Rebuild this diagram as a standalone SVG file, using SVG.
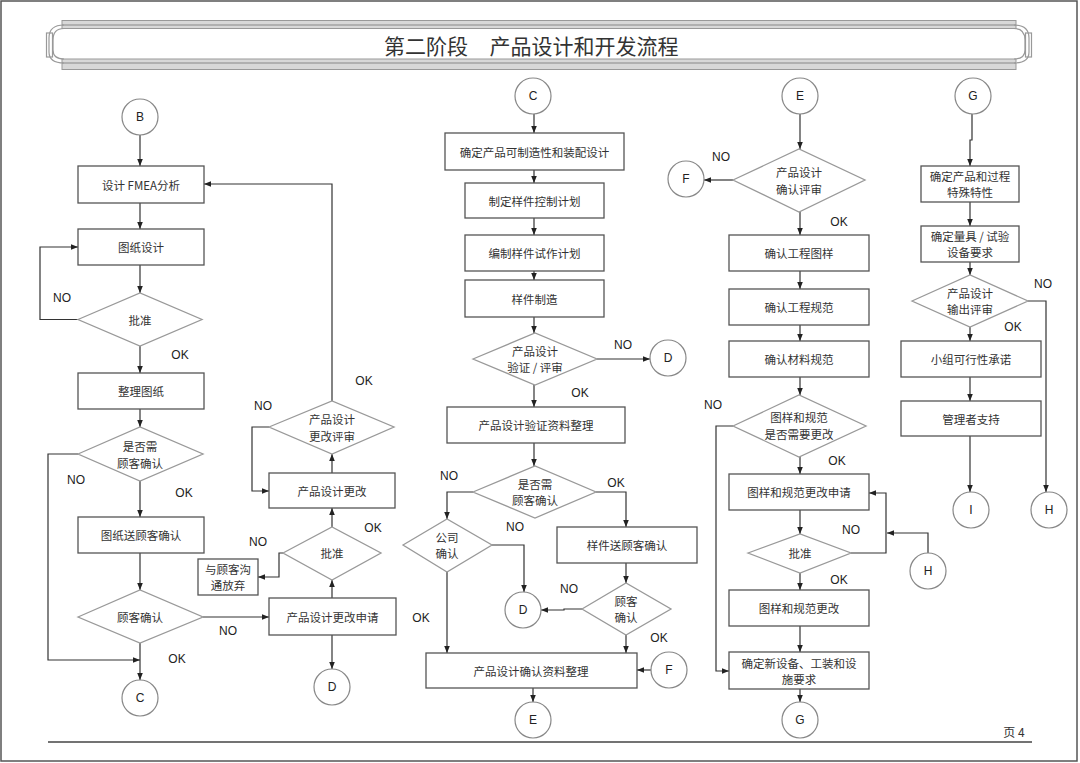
<svg xmlns="http://www.w3.org/2000/svg" width="1080" height="763" viewBox="0 0 1080 763">
<defs>
<marker id="arr" viewBox="0 0 10 10" refX="10" refY="5" markerWidth="7" markerHeight="7" markerUnits="userSpaceOnUse" orient="auto">
<path d="M0,1 L10,5 L0,9 z" fill="#222"/>
</marker>
</defs>
<style>
.box{fill:#fff;stroke:#555;stroke-width:1.3}
.dia{fill:#fff;stroke:#999;stroke-width:1.3}
.cir{fill:#fff;stroke:#888;stroke-width:1.2}
.con{fill:none;stroke:#333;stroke-width:1.2;marker-end:url(#arr)}
.t{font-family:"Noto Sans CJK SC","Noto Sans",sans-serif;font-size:11.5px;fill:#333;text-anchor:middle;dominant-baseline:central}
.l{font-family:"Liberation Sans",Arial,sans-serif;font-size:12px;fill:#222;text-anchor:middle;dominant-baseline:central}
.c{font-family:"Liberation Sans",Arial,sans-serif;font-size:12px;fill:#222;text-anchor:middle;dominant-baseline:central}
.band{fill:#d8d8d8;stroke:#999;stroke-width:1}
.bl{stroke:#888;stroke-width:1}
.cap{fill:none;stroke:#999;stroke-width:1.2}
</style>
<rect x="1" y="1" width="1076" height="760" fill="#fff" stroke="#555" stroke-width="1.5"/>
<g id="banner">
<rect class="band" x="62" y="20.5" width="954" height="8"/>
<line class="bl" x1="62" y1="25" x2="1016" y2="25"/>
<rect class="band" x="62" y="59" width="954" height="10.5"/>
<line class="bl" x1="62" y1="63" x2="1016" y2="63"/>
<path class="cap" d="M64,25 Q49,25 49,38 V52 Q49,63 64,63"/>
<path class="cap" d="M64,28.5 Q53,28.5 53,40 V50 Q53,59 64,59"/>
<rect class="cap" x="46.5" y="33" width="6" height="24"/>
<path class="cap" d="M1014,25 Q1029,25 1029,38 V52 Q1029,63 1014,63"/>
<path class="cap" d="M1014,28.5 Q1025,28.5 1025,40 V50 Q1025,59 1014,59"/>
<rect class="cap" x="1025.5" y="33" width="6" height="24"/>
<text x="426" y="45" font-family="Noto Sans CJK SC,sans-serif" font-size="21" fill="#333" text-anchor="middle" dominant-baseline="central">第二阶段</text>
<text x="584" y="45" font-family="Noto Sans CJK SC,sans-serif" font-size="21" fill="#333" text-anchor="middle" dominant-baseline="central">产品设计和开发流程</text>
</g>
<line x1="48" y1="742" x2="1032" y2="742" stroke="#444" stroke-width="1.5"/>
<text x="1014" y="731" font-family="Noto Sans CJK SC,sans-serif" font-size="12" fill="#333" text-anchor="middle" dominant-baseline="central">页 4</text>

<g id="connectors">
<path class="con" d="M140,135 V166"/>
<path class="con" d="M140,203 V229"/>
<path class="con" d="M140,265 V293"/>
<path class="con" d="M78,319.5 H40 V247 H78"/>
<path class="con" d="M140,346 V373"/>
<path class="con" d="M140,409 V427"/>
<path class="con" d="M78,454 H48 V660 H140"/>
<path class="con" d="M140,481 V517"/>
<path class="con" d="M140,553 V590"/>
<path class="con" d="M140,643 V680"/>
<path class="con" d="M203,617 H269"/>
<path class="con" d="M332,635 V669"/>
<path class="con" d="M332,598 V580"/>
<path class="con" d="M283,553 H279 V577 H258"/>
<path class="con" d="M332,527 V508"/>
<path class="con" d="M332,473 V454"/>
<path class="con" d="M269,427 H252 V491 H269"/>
<path class="con" d="M332,401 V184 H204"/>

<path class="con" d="M534,114 V133"/>
<path class="con" d="M534,170 V183"/>
<path class="con" d="M534,218 V235"/>
<path class="con" d="M534,271 V280"/>
<path class="con" d="M534,317 V333"/>
<path class="con" d="M597,359 H650"/>
<path class="con" d="M534,385 V407"/>
<path class="con" d="M534,443 V466"/>
<path class="con" d="M473,492 H447 V519"/>
<path class="con" d="M596,492 H626 V527"/>
<path class="con" d="M492,545 H524 V592"/>
<path class="con" d="M447,572 V653"/>
<path class="con" d="M626,563 V583"/>
<path class="con" d="M582,609 H564 V610 H541"/>
<path class="con" d="M626,635 V653"/>
<path class="con" d="M651,670 H637"/>
<path class="con" d="M533,688 V702"/>

<path class="con" d="M800,114 V149"/>
<path class="con" d="M733,180 H704"/>
<path class="con" d="M800,212 V235"/>
<path class="con" d="M800,271 V289"/>
<path class="con" d="M800,325 V341"/>
<path class="con" d="M800,377 V395"/>
<path class="con" d="M733,426 H716 V671 H729"/>
<path class="con" d="M800,457 V474"/>
<path class="con" d="M800,510 V534"/>
<path class="con" d="M851,553 H886 V493 H869"/>
<path class="con" d="M928,553 V533 H887"/>
<path class="con" d="M800,573 V590"/>
<path class="con" d="M800,626 V652"/>
<path class="con" d="M800,689 V702"/>

<path class="con" d="M972,114 V140 H970 V166"/>
<path class="con" d="M970,202 V226"/>
<path class="con" d="M970,262 V275"/>
<path class="con" d="M1028,301 H1046 V492"/>
<path class="con" d="M970,327 V341"/>
<path class="con" d="M970,377 V401"/>
<path class="con" d="M970,436 V492"/>
</g>

<g id="labels">
<text class="l" x="62" y="298">NO</text>
<text class="l" x="180" y="355">OK</text>
<text class="l" x="76" y="480">NO</text>
<text class="l" x="184" y="493">OK</text>
<text class="l" x="228" y="631">NO</text>
<text class="l" x="177" y="659">OK</text>
<text class="l" x="258" y="542">NO</text>
<text class="l" x="373" y="528">OK</text>
<text class="l" x="263" y="406">NO</text>
<text class="l" x="364" y="381">OK</text>
<text class="l" x="623" y="345">NO</text>
<text class="l" x="580" y="393">OK</text>
<text class="l" x="449" y="476">NO</text>
<text class="l" x="616" y="483">OK</text>
<text class="l" x="515" y="527">NO</text>
<text class="l" x="569" y="589">NO</text>
<text class="l" x="421" y="618">OK</text>
<text class="l" x="659" y="638">OK</text>
<text class="l" x="721" y="157">NO</text>
<text class="l" x="839" y="222">OK</text>
<text class="l" x="713" y="405">NO</text>
<text class="l" x="837" y="461">OK</text>
<text class="l" x="851" y="530">NO</text>
<text class="l" x="839" y="580">OK</text>
<text class="l" x="1043" y="284">NO</text>
<text class="l" x="1013" y="327">OK</text>
</g>

<g id="B1"><circle class="cir" cx="140" cy="117" r="18"/><text class="c" x="140" y="117">B</text></g>
<g id="fmea"><rect class="box" x="78" y="166" width="126" height="37"/><text class="t" x="141" y="184.5">设计 FMEA分析</text></g>
<g id="tuzhisheji"><rect class="box" x="78" y="229" width="126" height="36"/><text class="t" x="141" y="247">图纸设计</text></g>
<g id="pizhun1"><polygon class="dia" points="78,319.5 140,293 202,319.5 140,346"/><text class="t" x="140" y="319.5">批准</text></g>
<g id="zhengli"><rect class="box" x="78" y="373" width="126" height="36"/><text class="t" x="141" y="391">整理图纸</text></g>
<g id="shifou1"><polygon class="dia" points="78,454 140,427 203,454 140,481"/><text class="t" x="140" y="446">是否需</text><text class="t" x="140" y="463">顾客确认</text></g>
<g id="songqueren"><rect class="box" x="78" y="517" width="126" height="36"/><text class="t" x="141" y="535">图纸送顾客确认</text></g>
<g id="guke1"><polygon class="dia" points="78,617 140,590 203,617 140,643"/><text class="t" x="140" y="617">顾客确认</text></g>
<g id="C1"><circle class="cir" cx="140" cy="698" r="18"/><text class="c" x="140" y="698">C</text></g>
<g id="shenqing1"><rect class="box" x="269" y="598" width="127" height="37"/><text class="t" x="332.5" y="616.5">产品设计更改申请</text></g>
<g id="D1"><circle class="cir" cx="332" cy="687" r="18"/><text class="c" x="332" y="687">D</text></g>
<g id="pizhun2"><polygon class="dia" points="283,553 332,527 381,553 332,580"/><text class="t" x="332" y="553">批准</text></g>
<g id="fangqi"><rect class="box" x="198" y="559" width="60" height="36"/><text class="t" x="228" y="569">与顾客沟</text><text class="t" x="228" y="585">通放弃</text></g>
<g id="genggai1"><rect class="box" x="269" y="473" width="126" height="35"/><text class="t" x="332" y="490.5">产品设计更改</text></g>
<g id="pingshen1"><polygon class="dia" points="269,427 332,401 394,427 332,454"/><text class="t" x="332" y="419">产品设计</text><text class="t" x="332" y="436">更改评审</text></g>

<g id="C2"><circle class="cir" cx="533" cy="96" r="18"/><text class="c" x="533" y="96">C</text></g>
<g id="kezhizao"><rect class="box" x="445" y="133" width="179" height="37"/><text class="t" x="534.5" y="151.5">确定产品可制造性和装配设计</text></g>
<g id="kongzhi"><rect class="box" x="465" y="183" width="139" height="35"/><text class="t" x="534.5" y="200.5">制定样件控制计划</text></g>
<g id="shizuo"><rect class="box" x="465" y="235" width="139" height="36"/><text class="t" x="534.5" y="253">编制样件试作计划</text></g>
<g id="zhizao"><rect class="box" x="465" y="280" width="139" height="37"/><text class="t" x="534.5" y="298.5">样件制造</text></g>
<g id="yanzheng"><polygon class="dia" points="473,359 535,333 597,359 535,385"/><text class="t" x="535" y="351">产品设计</text><text class="t" x="535" y="367">验证 / 评审</text></g>
<g id="D2"><circle class="cir" cx="668" cy="358" r="18"/><text class="c" x="668" y="358">D</text></g>
<g id="yanzhengziliao"><rect class="box" x="447" y="407" width="178" height="36"/><text class="t" x="536" y="425">产品设计验证资料整理</text></g>
<g id="shifou2"><polygon class="dia" points="473,492 535,466 596,492 535,518"/><text class="t" x="535" y="484">是否需</text><text class="t" x="535" y="500">顾客确认</text></g>
<g id="gongsi"><polygon class="dia" points="403,545 447,519 492,545 447,572"/><text class="t" x="447" y="537">公司</text><text class="t" x="447" y="553">确认</text></g>
<g id="D3"><circle class="cir" cx="523" cy="610" r="18"/><text class="c" x="523" y="610">D</text></g>
<g id="yangjiansong"><rect class="box" x="557" y="527" width="140" height="36"/><text class="t" x="627" y="545">样件送顾客确认</text></g>
<g id="guke2"><polygon class="dia" points="582,609 626,583 671,609 626,635"/><text class="t" x="626" y="601">顾客</text><text class="t" x="626" y="617">确认</text></g>
<g id="querenziliao"><rect class="box" x="426" y="653" width="211" height="35"/><text class="t" x="531" y="670.5">产品设计确认资料整理</text></g>
<g id="F1"><circle class="cir" cx="669" cy="670" r="18"/><text class="c" x="669" y="670">F</text></g>
<g id="E1"><circle class="cir" cx="533" cy="720" r="18"/><text class="c" x="533" y="720">E</text></g>

<g id="E2"><circle class="cir" cx="800" cy="96" r="18"/><text class="c" x="800" y="96">E</text></g>
<g id="querenpingshen"><polygon class="dia" points="733,180 799,149 865,180 799,212"/><text class="t" x="799" y="172">产品设计</text><text class="t" x="799" y="189">确认评审</text></g>
<g id="F2"><circle class="cir" cx="686" cy="179" r="18"/><text class="c" x="686" y="179">F</text></g>
<g id="tuyang"><rect class="box" x="729" y="235" width="140" height="36"/><text class="t" x="799" y="253">确认工程图样</text></g>
<g id="gongcheng"><rect class="box" x="729" y="289" width="140" height="36"/><text class="t" x="799" y="307">确认工程规范</text></g>
<g id="cailiao"><rect class="box" x="729" y="341" width="140" height="36"/><text class="t" x="799" y="359">确认材料规范</text></g>
<g id="xuyaogenggai"><polygon class="dia" points="733,426 799,395 866,426 799,457"/><text class="t" x="799" y="417">图样和规范</text><text class="t" x="799" y="434">是否需要更改</text></g>
<g id="shenqing2"><rect class="box" x="729" y="474" width="140" height="36"/><text class="t" x="799" y="492">图样和规范更改申请</text></g>
<g id="pizhun3"><polygon class="dia" points="748,553 800,534 851,553 800,573"/><text class="t" x="800" y="553">批准</text></g>
<g id="H1"><circle class="cir" cx="928" cy="571" r="18"/><text class="c" x="928" y="571">H</text></g>
<g id="genggai2"><rect class="box" x="729" y="590" width="140" height="36"/><text class="t" x="799" y="608">图样和规范更改</text></g>
<g id="xinshebei"><rect class="box" x="729" y="652" width="140" height="37"/><text class="t" x="799" y="663">确定新设备、工装和设</text><text class="t" x="799" y="679">施要求</text></g>
<g id="G1"><circle class="cir" cx="800" cy="720" r="18"/><text class="c" x="800" y="720">G</text></g>

<g id="G2"><circle class="cir" cx="973" cy="96" r="18"/><text class="c" x="973" y="96">G</text></g>
<g id="texingte"><rect class="box" x="921" y="166" width="98" height="36"/><text class="t" x="970" y="176">确定产品和过程</text><text class="t" x="970" y="192">特殊特性</text></g>
<g id="liangju"><rect class="box" x="921" y="226" width="98" height="36"/><text class="t" x="970" y="236">确定量具 / 试验</text><text class="t" x="970" y="252">设备要求</text></g>
<g id="shuchu"><polygon class="dia" points="912,301 970,275 1028,301 970,327"/><text class="t" x="970" y="293">产品设计</text><text class="t" x="970" y="309">输出评审</text></g>
<g id="xiaozu"><rect class="box" x="901" y="341" width="140" height="36"/><text class="t" x="971" y="359">小组可行性承诺</text></g>
<g id="guanli"><rect class="box" x="901" y="401" width="140" height="35"/><text class="t" x="971" y="418.5">管理者支持</text></g>
<g id="I1"><circle class="cir" cx="971" cy="510" r="18"/><text class="c" x="971" y="510">I</text></g>
<g id="H2"><circle class="cir" cx="1049" cy="510" r="18"/><text class="c" x="1049" y="510">H</text></g>
</svg>
